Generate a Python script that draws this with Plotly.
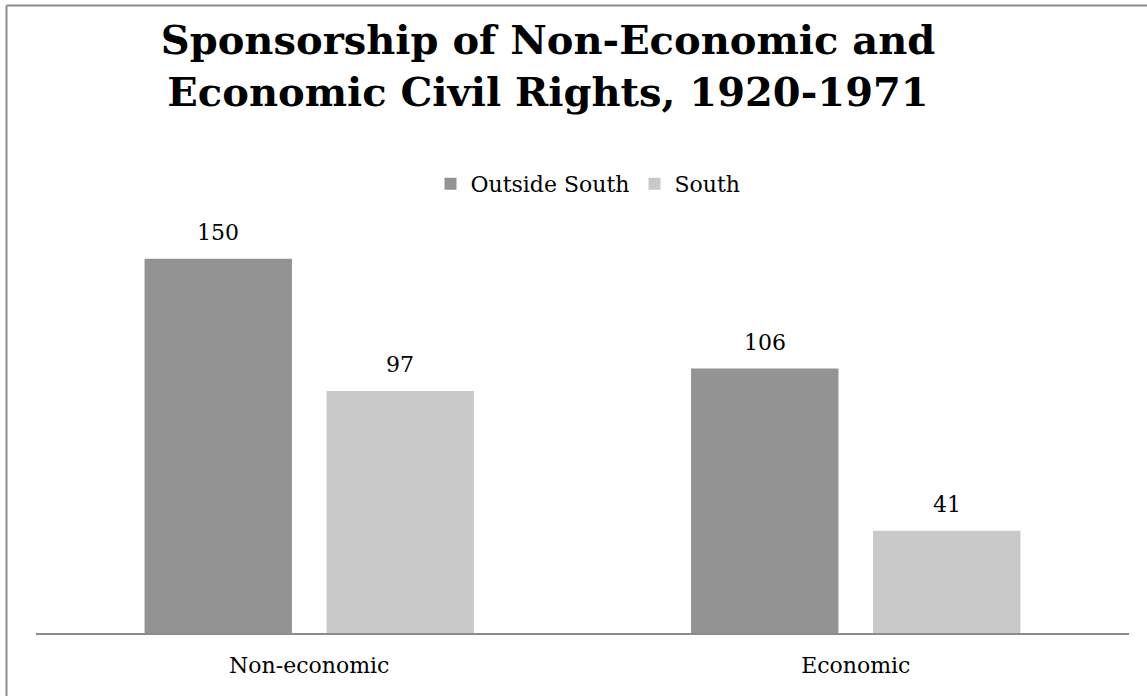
import plotly.graph_objects as go

categories = ["Non-economic", "Economic"]
outside_south = [150, 106]
south = [97, 41]
series_names = ["Outside South", "South"]

FONT = "DejaVu Serif"
LABEL_SIZE = 22

W, H = 1147, 696
ML, MR, MT, MB = 36, 18, 200, 63
PW = W - ML - MR
PH = H - MT - MB
BARGAP = 0.334
BARGROUPGAP = 0.19
PX_PER_UNIT = 2.495

fig = go.Figure()
fig.add_trace(go.Bar(
    name=series_names[0], x=categories, y=outside_south,
    marker=dict(color="#939393", line=dict(width=0)),
))
fig.add_trace(go.Bar(
    name=series_names[1], x=categories, y=south,
    marker=dict(color="#c9c9c9", line=dict(width=0)),
))

def px_x(px):
    return (px - ML) / PW

def px_y(py):
    return (H - MB - py) / PH

# value labels above bars, placed via the axes
cat_px = PW / len(categories)
slot_px = cat_px * (1 - BARGAP) / 2
annotations = []
for vals, sign in ((outside_south, -1), (south, 1)):
    for c, v in zip(categories, vals):
        annotations.append(dict(
            x=c, y=v, xref="x", yref="y", text=str(v), showarrow=False,
            xanchor="center", yanchor="bottom", xshift=sign * slot_px / 2,
            yshift=12,
            font=dict(family=FONT, size=LABEL_SIZE, color="#000000"),
        ))

fig.update_layout(
    width=W, height=H, autosize=False,
    margin=dict(l=ML, r=MR, t=MT, b=MB, pad=0),
    paper_bgcolor="white", plot_bgcolor="white",
    barmode="group", bargap=BARGAP, bargroupgap=BARGROUPGAP,
    title=dict(
        text="Sponsorship of Non-Economic and<br>Economic Civil Rights, 1920-1971",
        font=dict(family=FONT, size=40, color="#000000", weight="bold"),
        x=px_x(548), xref="paper", xanchor="center",
        y=1 - 54 / H, yref="container", yanchor="middle",
    ),
    legend=dict(
        orientation="h", x=px_x(588), xanchor="center",
        y=px_y(184), yanchor="middle",
        font=dict(family=FONT, size=LABEL_SIZE, color="#000000"),
        bgcolor="rgba(0,0,0,0)",
    ),
    xaxis=dict(
        showline=True, linecolor="#8c8c8c", linewidth=2,
        ticks="", showgrid=False, zeroline=False,
        tickfont=dict(family=FONT, size=LABEL_SIZE, color="#000000"),
        ticklabelstandoff=12,
    ),
    yaxis=dict(
        range=[0, PH / PX_PER_UNIT], visible=False, showgrid=False, zeroline=False,
    ),
    annotations=annotations,
    shapes=[
        dict(type="line", xref="paper", yref="paper",
             x0=px_x(6.5), x1=px_x(6.5), y0=px_y(5.5), y1=px_y(H + 5),
             line=dict(color="#8c8c8c", width=2)),
        dict(type="line", xref="paper", yref="paper",
             x0=px_x(6.5), x1=px_x(W + 5), y0=px_y(5.5), y1=px_y(5.5),
             line=dict(color="#8c8c8c", width=2)),
    ],
)

fig.write_html("out.html", config={"displayModeBar": False},
               post_script="document.body.style.margin='0';")
